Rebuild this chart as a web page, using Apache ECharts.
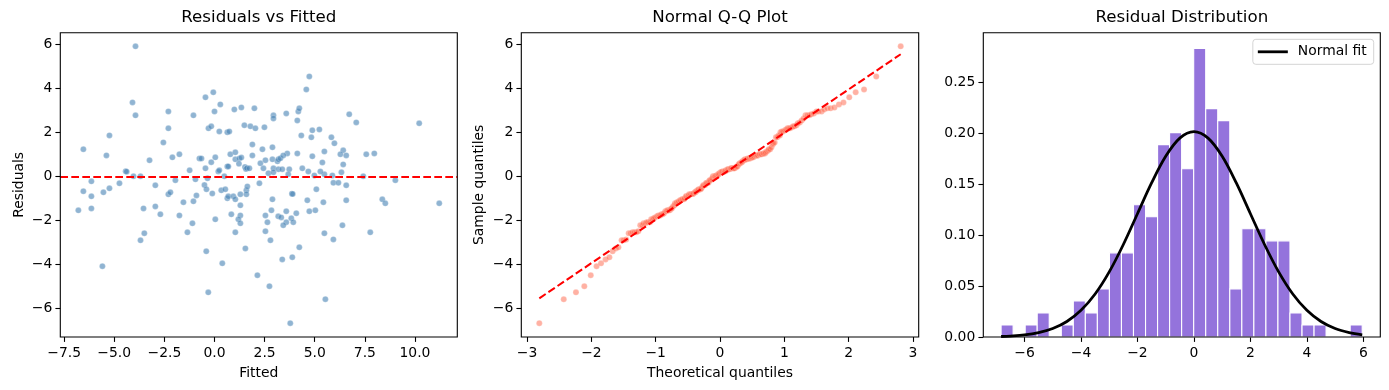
<!DOCTYPE html>
<html><head><meta charset="utf-8">
<script src="https://cdn.jsdelivr.net/npm/echarts/dist/echarts.min.js"></script>
<style>html,body{margin:0;padding:0;background:#fff}#c{width:1389px;height:390px}</style>
</head><body><div id="c"></div>
<script>
// ---------- Panel 1: Residuals vs Fitted ----------
const fitted = [
-3.94,-4.09,-3.94,-5.24,-6.54,-5.39,-3.24,-4.43,-4.38,-4.04,-3.69,-2.30,-2.30,-2.55,-2.10,-1.75,-1.24,
-6.14,-6.54,-6.14,-6.79,-6.14,-5.54,-5.24,-4.74,-2.95,-1.95,-2.30,-2.20,-1.55,-1.75,-2.95,-2.70,-3.54,-3.50,-3.69,-5.59,-1.35,
-1.05,-0.45,-0.06,0.29,0.00,-0.30,-0.16,0.24,0.64,0.74,
0.99,1.34,1.99,1.49,1.79,2.04,2.49,2.94,2.94,3.58,
4.13,4.18,4.23,4.58,4.73,4.33,4.88,5.23,4.83,1.89,
2.39,2.89,3.63,4.13,1.89,0.79,1.04,1.04,1.24,1.34,
-0.75,-0.65,-0.16,0.04,-0.45,0.19,0.24,0.64,0.69,0.49,
1.52,1.57,1.62,1.74,2.29,2.54,2.44,2.69,2.89,2.94,
2.94,3.14,3.19,3.29,3.43,3.19,3.38,3.73,3.68,4.38,
4.68,4.88,4.98,-0.35,1.22,
-0.95,-0.50,-0.40,-0.90,-1.05,-0.11,0.34,0.54,0.64,0.69,
0.94,1.04,1.29,1.59,1.64,1.59,2.24,1.29,0.84,1.29,
1.19,1.29,1.04,0.04,-1.10,-0.41,0.39,1.54,-0.31,2.14,
2.74,2.54,2.64,2.84,2.89,2.54,2.79,3.18,3.33,3.58,
3.83,4.08,3.58,3.43,3.93,3.86,3.90,4.63,4.73,5.03,
5.08,4.23,3.38,3.88,3.78,
6.72,7.07,10.21,5.83,5.98,5.48,6.42,6.28,6.57,7.57,
7.97,5.38,6.42,6.33,5.88,5.48,7.42,5.28,
9.02,5.93,6.18,6.57,5.43,6.57,8.37,8.52,11.21,6.38,5.48,5.93,
7.77,5.53
];
const residuals = [
5.92,3.37,2.78,1.87,1.24,0.96,0.74,0.24,0.22,0.01,0.01,2.96,2.19,1.55,0.87,1.01,0.28,
-0.22,-0.67,-0.90,-1.54,-1.45,-0.72,-0.54,-0.31,-0.40,-0.17,-0.81,-0.72,-1.17,-1.77,-1.36,-1.72,-1.45,-2.58,-2.90,-4.08,-2.54,
2.78,3.60,3.83,3.28,2.96,2.19,2.28,2.05,2.01,2.05,
3.05,3.14,3.10,2.33,2.28,2.19,2.24,2.78,2.64,2.87,
2.55,2.96,3.10,3.96,4.55,1.87,2.10,2.14,1.78,1.46,
1.24,1.33,1.05,1.05,0.96,1.01,1.10,0.78,0.82,0.86,
0.82,0.82,0.65,0.87,0.37,0.23,0.28,0.46,0.46,0.01,
0.43,0.34,0.38,0.37,0.60,0.74,0.37,0.15,0.78,0.37,
0.19,0.69,0.78,0.83,0.96,0.33,0.33,0.33,0.10,0.37,
0.23,0.92,0.05,-0.08,0.58,
-0.13,-0.39,-0.58,-0.86,-1.13,-0.77,-0.63,-0.58,-0.99,-0.90,
-0.90,-1.04,-0.81,-0.63,-0.45,-0.81,-0.31,-1.31,-1.72,-1.77,
-1.95,-2.13,-2.54,-1.95,-2.13,-3.40,-3.95,-3.27,-5.27,-4.49,
-4.99,-1.77,-2.08,-1.54,-1.04,-2.49,-2.90,-1.81,-1.86,-1.58,
-1.90,-1.67,-2.08,-2.22,-2.08,-0.78,-0.80,-1.08,-1.58,-1.54,
-0.58,-3.22,-3.77,-3.67,-6.67,
2.83,2.46,2.42,1.78,1.51,1.14,1.19,1.01,0.96,1.01,
1.05,0.64,0.55,0.19,0.05,0.10,0.01,0.23,
-0.17,-0.29,-0.29,-0.40,-1.17,-1.08,-1.04,-1.22,-1.22,-2.22,-2.58,-2.86,
-2.54,-5.58
];
const zeroLine = [0];

// ---------- Panel 2: Normal Q-Q ----------
const qqTheoretical = [
-2.81,-2.43,-2.24,-2.11,-2.01,-1.92,-1.85,-1.78,-1.72,-1.67,
-1.62,-1.58,-1.53,-1.50,-1.46,-1.42,-1.39,-1.36,-1.33,-1.30,
-1.27,-1.24,-1.21,-1.19,-1.16,-1.14,-1.12,-1.09,-1.07,-1.05,
-1.03,-1.01,-0.98,-0.96,-0.94,-0.93,-0.91,-0.89,-0.87,-0.85,
-0.83,-0.82,-0.80,-0.78,-0.76,-0.75,-0.73,-0.71,-0.70,-0.68,
-0.67,-0.65,-0.64,-0.62,-0.61,-0.59,-0.58,-0.56,-0.55,-0.53,
-0.52,-0.50,-0.49,-0.48,-0.46,-0.45,-0.43,-0.42,-0.41,-0.39,
-0.38,-0.37,-0.35,-0.34,-0.33,-0.31,-0.30,-0.29,-0.27,-0.26,
-0.25,-0.23,-0.22,-0.21,-0.20,-0.18,-0.17,-0.16,-0.15,-0.13,
-0.12,-0.11,-0.09,-0.08,-0.07,-0.06,-0.04,-0.03,-0.02,-0.01,
0.01,0.02,0.03,0.04,0.06,0.07,0.08,0.09,0.11,0.12,
0.13,0.15,0.16,0.17,0.18,0.20,0.21,0.22,0.23,0.25,
0.26,0.27,0.29,0.30,0.31,0.33,0.34,0.35,0.37,0.38,
0.39,0.41,0.42,0.43,0.45,0.46,0.48,0.49,0.50,0.52,
0.53,0.55,0.56,0.58,0.59,0.61,0.62,0.64,0.65,0.67,
0.68,0.70,0.71,0.73,0.75,0.76,0.78,0.80,0.82,0.83,
0.85,0.87,0.89,0.91,0.93,0.94,0.96,0.98,1.01,1.03,
1.05,1.07,1.09,1.12,1.14,1.16,1.19,1.21,1.24,1.27,
1.30,1.33,1.36,1.39,1.42,1.46,1.50,1.53,1.58,1.62,
1.67,1.72,1.78,1.85,1.92,2.01,2.11,2.24,2.43,2.81
];
const qqLineX = [-2.81, 2.81];
const qqLineY = [-5.54, 5.56];

// ---------- Panel 3: Residual distribution ----------
const binEdges = [-6.830,-6.404,-5.977,-5.551,-5.125,-4.698,-4.272,-3.846,-3.420,-2.993,-2.567,-2.141,-1.714,-1.288,-0.862,-0.436,-0.009,0.417,0.843,1.270,1.696,2.122,2.549,2.975,3.401,3.828,4.254,4.680,5.106,5.533,5.959];
const binDensity = [0.0118,0,0.0118,0.0236,0,0.0118,0.0354,0.0236,0.0472,0.0826,0.0826,0.1298,0.1180,0.1888,0.2006,0.1652,0.2832,0.2242,0.2124,0.0472,0.1062,0.1062,0.0944,0.0944,0.0236,0.0118,0.0118,0,0,0.0118];
const normalX = [-6.83,-6.5,-6,-5.5,-5,-4.5,-4,-3.5,-3,-2.5,-2,-1.5,-1,-0.5,0,0.5,1,1.5,2,2.5,3,3.5,4,4.5,5,5.5,5.96];
const normalY = [0.0005,0.0009,0.0020,0.0043,0.0083,0.0152,0.0262,0.0422,0.0639,0.0908,0.1210,0.1512,0.1774,0.1952,0.2015,0.1952,0.1774,0.1512,0.1210,0.0908,0.0639,0.0422,0.0262,0.0152,0.0083,0.0043,0.0022];

// ---------- tick labels ----------
const ticks1X = [-7.5,-5,-2.5,0,2.5,5,7.5,10];
const ticks1Y = [-6,-4,-2,0,2,4,6];
const ticks2X = [-3,-2,-1,0,1,2,3];
const ticks2Y = [-6,-4,-2,0,2,4,6];
const ticks3X = [-6,-4,-2,0,2,4,6];
const ticks3Y = [0,0.05,0.10,0.15,0.20,0.25];

const titles = ['Residuals vs Fitted','Normal Q-Q Plot','Residual Distribution'];

// ---------- build ----------
const FONT = 'DejaVu Sans';
const minus = s => s.replace('-', '\u2212');
const fmt = d => v => minus(Number(v).toFixed(d));

const grids = [
  {left:60.3, top:32.7, width:397, height:304.3},
  {left:521.3, top:32.7, width:397.4, height:304.3},
  {left:983.3, top:32.7, width:397, height:304.3}
].map(g => Object.assign({show:true, z:10, borderColor:'#000', borderWidth:1.1, backgroundColor:'transparent', containLabel:false}, g));

function axis(gi, min, max, ticks, f, isY, extra) {
  return Object.assign({
    type:'value', gridIndex:gi, min:min, max:max,
    splitLine:{show:false},
    axisLine:{show:false, onZero:false},
    axisTick:{show:true, length:4.9, lineStyle:{color:'#000', width:1.1}, customValues:ticks},
    axisLabel:{color:'#000', fontFamily:FONT, fontSize:13.9, margin:isY ? 8 : 9, customValues:ticks, formatter:f}
  }, extra || {});
}
const nameStyle = {color:'#000', fontFamily:FONT, fontSize:13.9};

const xAxes = [
  axis(0, -7.69, 12.11, ticks1X, fmt(1), false, {name:'Fitted', nameLocation:'middle', nameGap:29, nameTextStyle:nameStyle}),
  axis(1, -3.09, 3.09, ticks2X, fmt(0), false, {name:'Theoretical quantiles', nameLocation:'middle', nameGap:29, nameTextStyle:nameStyle}),
  axis(2, -7.46, 6.60, ticks3X, fmt(0), false)
];
const yAxes = [
  axis(0, -7.30, 6.54, ticks1Y, fmt(0), true, {name:'Residuals', nameLocation:'middle', nameGap:34, nameTextStyle:nameStyle}),
  axis(1, -7.30, 6.54, ticks2Y, fmt(0), true, {name:'Sample quantiles', nameLocation:'middle', nameGap:35, nameTextStyle:nameStyle}),
  axis(2, 0, 0.2987, ticks3Y, fmt(2), true)
];

const scatterData = fitted.map((x, i) => [x, residuals[i]]);
const sorted = residuals.slice().sort((a, b) => a - b);
const qqData = qqTheoretical.map((q, i) => [q, sorted[i]]);
const qqLine = qqLineX.map((x, i) => [x, qqLineY[i]]);
const histData = binDensity.map((d, i) => [binEdges[i], binEdges[i+1], d]).filter(r => r[2] > 0);
const normalData = normalX.map((x, i) => [x, normalY[i]]);

const DASH = [7.7, 3.3];

const option = {
  backgroundColor:'#fff',
  animation:false,
  grid: grids,
  xAxis: xAxes,
  yAxis: yAxes,
  legend: {
    data:[{name:'Normal fit', icon:'rect'}], right:15.3, top:39.3, selectedMode:false,
    itemWidth:30, itemHeight:2.8, padding:[5,7,5,5], itemGap:0, z:20,
    backgroundColor:'#fff', borderColor:'#d4d4d4', borderWidth:1, borderRadius:3,
    textStyle:{fontFamily:FONT, fontSize:13.9, color:'#000', padding:[0,0,0,5], lineHeight:15}
  },
  graphic: titles.map((t, i) => ({
    type:'text', x: grids[i].left + grids[i].width / 2, y: 18,
    style:{text:t, fill:'#000', font:'16.67px "DejaVu Sans"', textAlign:'center', textVerticalAlign:'middle'}
  })),
  series: [
    {
      type:'scatter', xAxisIndex:0, yAxisIndex:0, data:scatterData, symbolSize:6,
      itemStyle:{color:'#4682b4', opacity:0.6, borderColor:'rgba(255,255,255,0.7)', borderWidth:0.6},
      markLine:{silent:true, symbol:'none', label:{show:false},
        lineStyle:{color:'#ff0000', type:DASH, width:2.08},
        data: zeroLine.map(v => ({yAxis:v}))}
    },
    {
      type:'scatter', xAxisIndex:1, yAxisIndex:1, data:qqData, symbolSize:6,
      itemStyle:{color:'#ff6347', opacity:0.5, borderColor:'rgba(255,255,255,0.7)', borderWidth:0.6}
    },
    {
      type:'line', xAxisIndex:1, yAxisIndex:1, data:qqLine, symbol:'none',
      lineStyle:{color:'#ff0000', type:DASH, width:2.08}
    },
    {
      type:'custom', xAxisIndex:2, yAxisIndex:2, data:histData,
      encode:{x:[0,1], y:2},
      renderItem:(params, api) => {
        const p0 = api.coord([api.value(0), api.value(2)]);
        const p1 = api.coord([api.value(1), 0]);
        return {type:'rect', shape:{x:p0[0], y:p0[1], width:p1[0]-p0[0], height:p1[1]-p0[1]},
          style:{fill:'#9473dc', stroke:'#ffffff', lineWidth:1.1}};
      }
    },
    {
      name:'Normal fit', type:'line', xAxisIndex:2, yAxisIndex:2, data:normalData,
      symbol:'none', smooth:0.35,
      lineStyle:{color:'#000', width:2.78}, itemStyle:{color:'#000'}
    }
  ]
};
const chart = echarts.init(document.getElementById('c'), null, {renderer:'canvas', width:1389, height:390});
chart.setOption(option);
</script></body></html>
